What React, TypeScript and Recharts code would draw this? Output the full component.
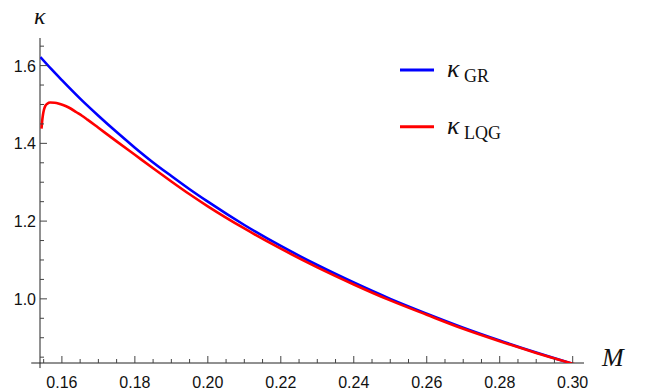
import React from 'react';
import { LineChart, Line, XAxis, YAxis, ReferenceLine } from 'recharts';

// kappa vs M
const M_GR = [0.1541, 0.157, 0.16, 0.165, 0.17, 0.175, 0.18, 0.185, 0.19, 0.195, 0.2, 0.21, 0.22, 0.23, 0.24, 0.25, 0.26, 0.27, 0.28, 0.29, 0.3];
const KAPPA_GR = [1.622, 1.592, 1.5625, 1.515, 1.471, 1.429, 1.389, 1.351, 1.316, 1.282, 1.25, 1.19, 1.136, 1.087, 1.042, 1.0, 0.962, 0.926, 0.893, 0.862, 0.833];

const M_LQG = [0.15441, 0.1546, 0.1548, 0.1551, 0.1555, 0.156, 0.1568, 0.158, 0.1595, 0.161, 0.1625, 0.164, 0.1655, 0.167, 0.17, 0.175, 0.18, 0.185, 0.19, 0.195, 0.2, 0.21, 0.22, 0.23, 0.24, 0.25, 0.26, 0.27, 0.28, 0.29, 0.3005];
const KAPPA_LQG = [1.438, 1.458, 1.473, 1.487, 1.497, 1.502, 1.505, 1.5045, 1.501, 1.496, 1.489, 1.48, 1.471, 1.461, 1.44, 1.405, 1.3705, 1.336, 1.302, 1.269, 1.238, 1.181, 1.129, 1.081, 1.037, 0.996, 0.959, 0.923, 0.891, 0.861, 0.832];

const X_TICKS = [0.155, 0.16, 0.165, 0.17, 0.175, 0.18, 0.185, 0.19, 0.195, 0.2, 0.205, 0.21, 0.215, 0.22, 0.225, 0.23, 0.235, 0.24, 0.245, 0.25, 0.255, 0.26, 0.265, 0.27, 0.275, 0.28, 0.285, 0.29, 0.295, 0.3];
const Y_TICKS = [0.85, 0.9, 0.95, 1.0, 1.05, 1.1, 1.15, 1.2, 1.25, 1.3, 1.35, 1.4, 1.45, 1.5, 1.55, 1.6, 1.65];

const LEGEND = [
  { color: '#0000ff', sub: 'GR' },
  { color: '#ff0000', sub: 'LQG' },
];

const X_DOMAIN = [0.154, 0.3031];
const Y_DOMAIN = [0.835, 1.671];

const grData = M_GR.map((m, i) => ({ M: m, kappa: KAPPA_GR[i] }));
const lqgData = M_LQG.map((m, i) => ({ M: m, kappa: KAPPA_LQG[i] }));

const AXIS_X = 40;
const AXIS_Y = 363;
const tickFont = '"Liberation Sans", Arial, sans-serif';
const mathFont = '"Liberation Serif", "Times New Roman", serif';

const XTick = (props: any) => {
  const { x, payload } = props;
  const v = payload.value;
  const major = Math.round(v * 1000) % 20 === 0;
  return (
    <g>
      <line x1={x} x2={x} y1={AXIS_Y} y2={AXIS_Y - (major ? 7 : 4)} stroke="#444" strokeWidth={1} />
      {major && (
        <text x={x} y={388} textAnchor="middle" fontSize={16} fontFamily={tickFont} fill="#111">
          {v.toFixed(2)}
        </text>
      )}
    </g>
  );
};

const YTick = (props: any) => {
  const { y, payload } = props;
  const v = payload.value;
  const major = Math.round(v * 100) % 20 === 0;
  return (
    <g>
      <line x1={AXIS_X} x2={AXIS_X + (major ? 7 : 4)} y1={y} y2={y} stroke="#444" strokeWidth={1} />
      {major && (
        <text x={36} y={y + 6} textAnchor="end" fontSize={16} fontFamily={tickFont} fill="#111">
          {v.toFixed(1)}
        </text>
      )}
    </g>
  );
};

// axis label κ plus the legend, drawn at fixed spots like the original
const TopLabels = () => (
  <g>
    <text x={34} y={24} fontSize={24} fontStyle="italic" fontFamily={mathFont} fill="#111">κ</text>
    <g transform="translate(400,50)">
      {LEGEND.map((it, i) => (
        <g key={it.sub}>
          <line x1={0} x2={34} y1={20 + i * 56.7} y2={20 + i * 56.7} stroke={it.color} strokeWidth={3} />
          <text x={47} y={27 + i * 56.7} fontSize={26} fontStyle="italic" fontFamily={mathFont} fill="#111">κ</text>
          <text x={64} y={32 + i * 56.7} fontSize={18} fontFamily={mathFont} fill="#111">{it.sub}</text>
        </g>
      ))}
    </g>
  </g>
);

export default function App() {
  return (
    <div style={{ position: 'absolute', left: 0, top: 0, width: 650, height: 390, background: '#fff' }}>
      <LineChart width={650} height={390} margin={{ top: 38, right: 66, bottom: 26, left: 39 }}>
        <XAxis
          type="number"
          dataKey="M"
          domain={X_DOMAIN}
          allowDataOverflow
          ticks={X_TICKS}
          interval={0}
          height={1}
          axisLine={false}
          tickLine={false}
          tick={<XTick />}
          label={{
            content: () => (
              <text x={602} y={366} fontSize={26} fontStyle="italic" fontFamily={mathFont} fill="#111">M</text>
            ),
          }}
        />
        <YAxis
          type="number"
          domain={Y_DOMAIN}
          allowDataOverflow
          ticks={Y_TICKS}
          interval={0}
          width={1}
          axisLine={false}
          tickLine={false}
          tick={<YTick />}
          label={{ content: () => <TopLabels /> }}
        />
        <ReferenceLine
          segment={[{ x: 0.1516, y: 0.835 }, { x: 0.3031, y: 0.835 }]}
          stroke="#222"
          strokeWidth={1}
          ifOverflow="visible"
        />
        <ReferenceLine
          segment={[{ x: 0.154, y: 0.822 }, { x: 0.154, y: 1.671 }]}
          stroke="#222"
          strokeWidth={1}
          ifOverflow="visible"
        />
        <Line
          data={grData}
          dataKey="kappa"
          name="GR"
          type="monotone"
          stroke="#0000ff"
          strokeWidth={2.6}
          dot={false}
          isAnimationActive={false}
        />
        <Line
          data={lqgData}
          dataKey="kappa"
          name="LQG"
          type="monotone"
          stroke="#ff0000"
          strokeWidth={2.6}
          dot={false}
          isAnimationActive={false}
        />
      </LineChart>
    </div>
  );
}
